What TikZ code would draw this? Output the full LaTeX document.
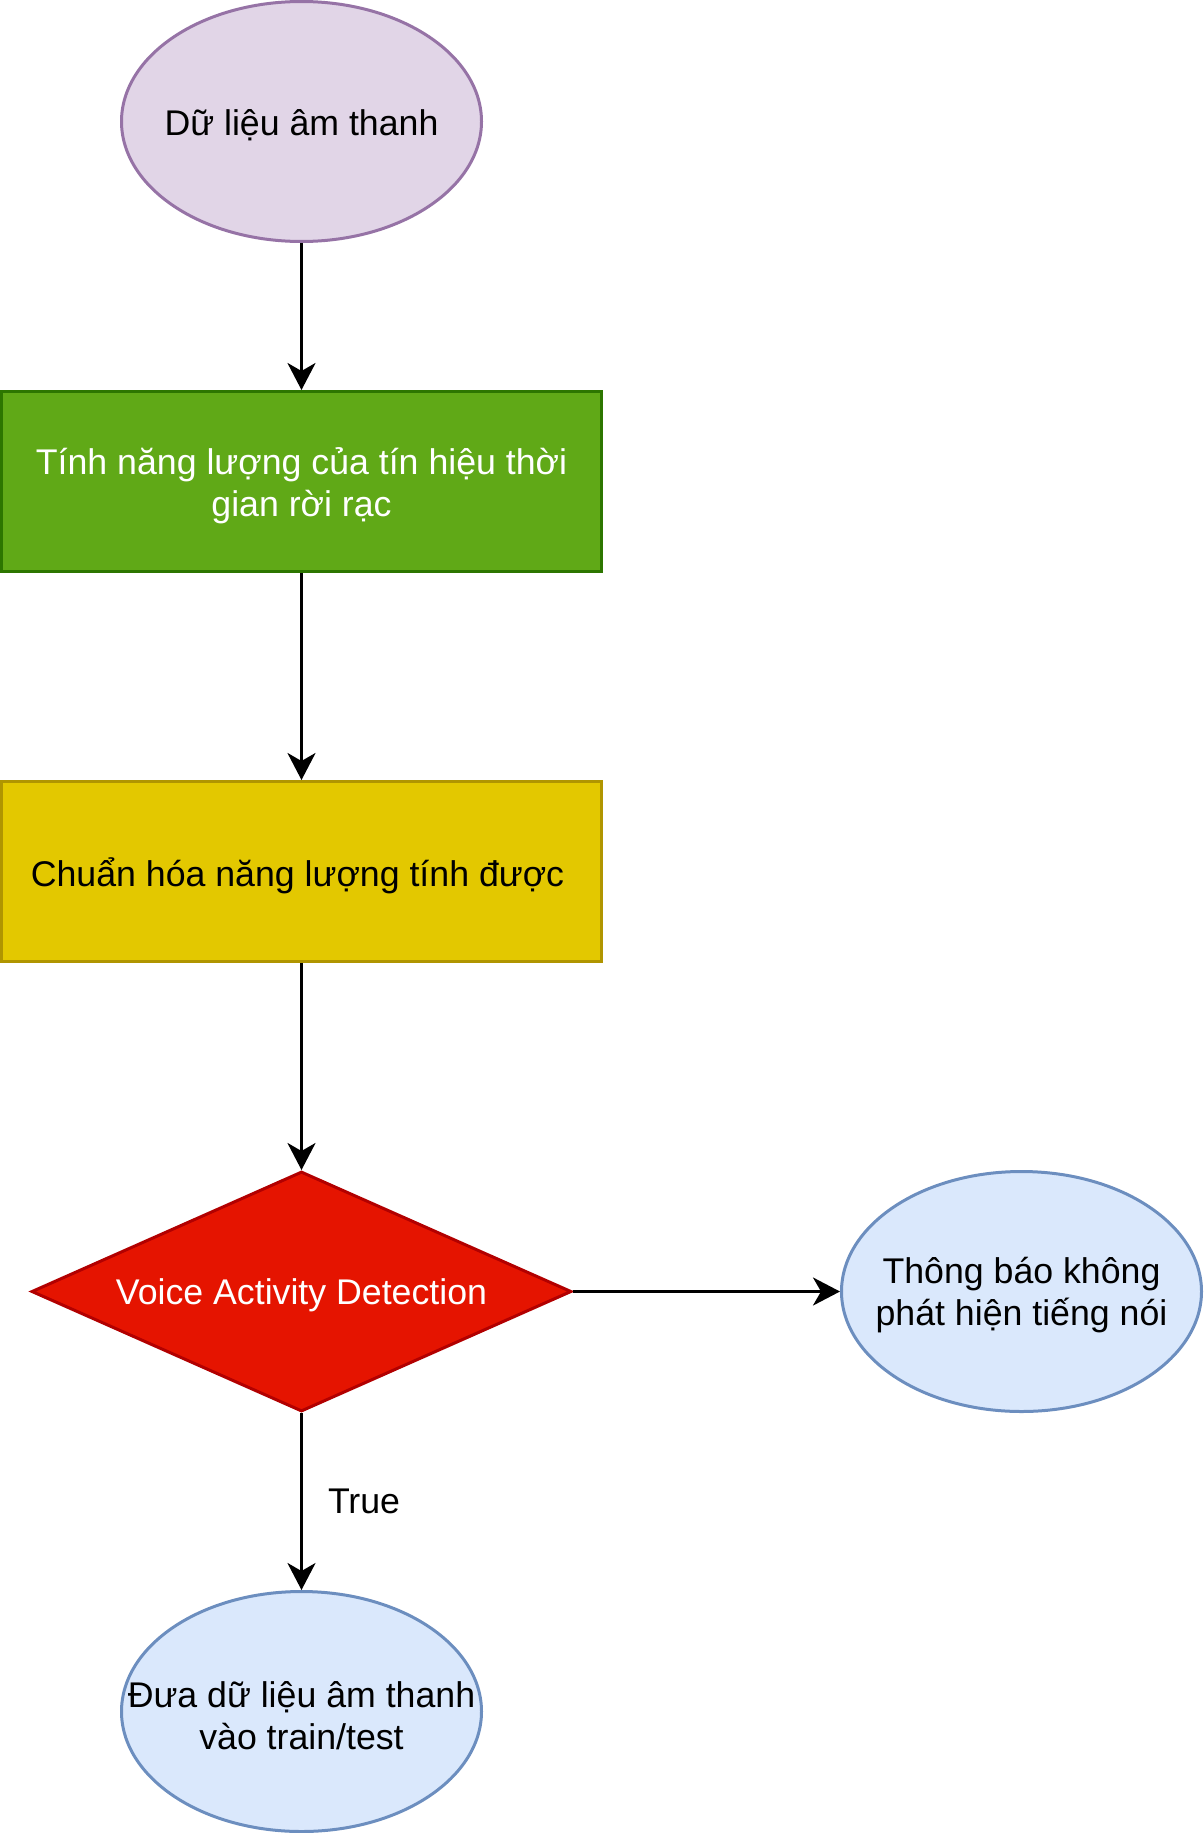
\documentclass[tikz,border=0pt]{standalone}
\usepackage{fontspec}
\setmainfont{Liberation Sans}
\usetikzlibrary{shapes.geometric,arrows.meta}
\definecolor{purpfill}{HTML}{E1D5E7}
\definecolor{purpline}{HTML}{9673A6}
\definecolor{greenfill}{HTML}{60A917}
\definecolor{greenline}{HTML}{2D7600}
\definecolor{yelfill}{HTML}{E3C800}
\definecolor{yelline}{HTML}{B09500}
\definecolor{redfill}{HTML}{E51400}
\definecolor{redline}{HTML}{B20000}
\definecolor{bluefill}{HTML}{DAE8FC}
\definecolor{blueline}{HTML}{6C8EBF}
\tikzset{
  txt/.style={align=center, inner sep=0pt, yshift=-4pt, font=\fontsize{35.7}{42}\selectfont},
  ell/.style={line width=3pt, ellipse, inner sep=0pt, minimum width=360pt, minimum height=240pt},
  boxnode/.style={line width=3pt, rectangle, inner sep=0pt, minimum width=600pt, minimum height=180pt},
  decision/.style={line width=3pt, diamond, inner sep=0pt, aspect=2.25, minimum width=540pt, minimum height=240pt},
  conn/.style={line width=3pt, -{Stealth[length=27pt, width=28pt, inset=8pt]}},
  lbl/.style={font=\fontsize{35.7}{42}\selectfont, inner sep=0pt}
}
\begin{document}
\begin{tikzpicture}[x=1pt,y=-1pt]
\useasboundingbox (0,0) rectangle (1203,1833);
\node[ell, fill=purpfill, draw=purpline] (start) at (301.5,121.5) {};
\node[txt] (starttext) at (start.center) {Dữ liệu âm thanh};
\node[boxnode, fill=greenfill, draw=greenline] (energy) at (301.5,481.5) {};
\node[txt, text=white] (energytext) at (energy.center) {Tính năng lượng của tín hiệu thời\\gian rời rạc};
\node[boxnode, fill=yelfill, draw=yelline] (norm) at (301.5,871.5) {};
\node[txt, xshift=-4pt] (normtext) at (norm.center) {Chuẩn hóa năng lượng tính được};
\node[decision, fill=redfill, draw=redline] (vad) at (301.5,1291.5) {};
\node[txt, text=white] (vadtext) at (vad.center) {Voice Activity Detection};
\node[ell, fill=bluefill, draw=blueline] (nospeech) at (1021.5,1291.5) {};
\node[txt] (nospeechtext) at (nospeech.center) {Thông báo không\\phát hiện tiếng nói};
\node[ell, fill=bluefill, draw=blueline] (train) at (301.5,1711.5) {};
\node[txt] (traintext) at (train.center) {Đưa dữ liệu âm thanh\\vào train/test};
\draw[conn] (start) -- (energy);
\draw[conn] (energy) -- (norm);
\draw[conn] (norm) -- (vad);
\draw[conn] (vad.east) -- (nospeech.west);
\draw[conn] (vad.south) -- node[lbl, anchor=west, xshift=25pt] {True} (train.north);
\end{tikzpicture}
\end{document}
